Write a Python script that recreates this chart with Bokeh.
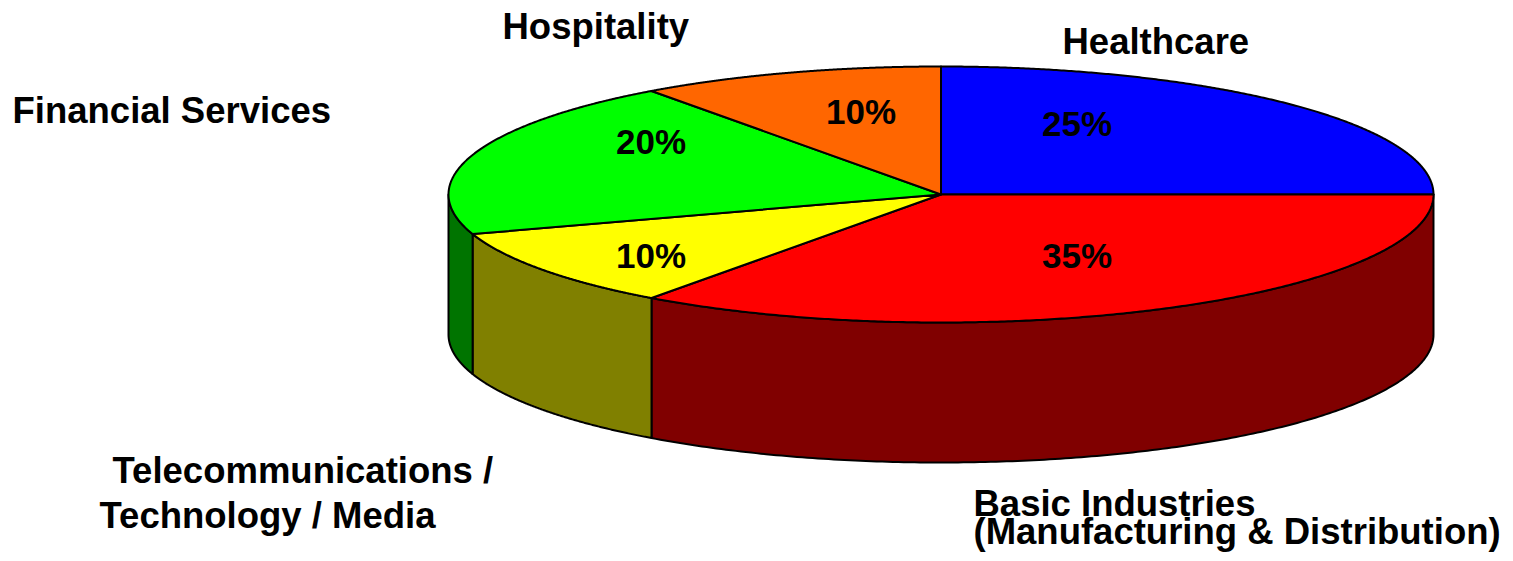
import numpy as np
from bokeh.plotting import figure
from bokeh.models import ColumnDataSource, Range1d
from bokeh.core.properties import value
from bokeh.embed import file_html
from bokeh.resources import INLINE

# ---- data ----
categories = ["Healthcare", "Basic Industries", "Telecommunications / Technology / Media",
              "Financial Services", "Hospitality"]
shares = [25, 35, 10, 20, 10]
pct_labels = ["25%", "35%", "10%", "20%", "10%"]
label_lines = [["Healthcare"],
               ["Basic Industries", "(Manufacturing & Distribution)"],
               ["Telecommunications /", "Technology / Media"],
               ["Financial Services"],
               ["Hospitality"]]
top_colors = ["#0000FF", "#FF0000", "#FFFF00", "#00FF00", "#FF6600"]
side_colors = ["#000080", "#800000", "#808000", "#007400", "#803300"]

# ---- layout (pixel space, y downward) ----
W, H = 1513, 561
cx, cy, rx, ry, depth = 940.5, 194.0, 492.5, 128.0, 140.0
BASE_FIX = -12  # renderer baseline correction
# percent label anchors, relative to pie centre (dx, baseline dy)
pct_offsets = [(136, -59), (136, 73), (-290, 73), (-290, -41), (-80, -71)]
# category label line anchors (left x, baseline y)
cat_anchor = [[(1062, 53)],
              [(973, 515), (973, 543)],
              [(112, 482), (99, 527)],
              [(12, 122)],
              [(502, 38)]]

p = figure(width=W, height=H, output_backend="svg", toolbar_location=None,
           x_range=Range1d(0, W), y_range=Range1d(H, 0), min_border=0)
p.axis.visible = False
p.grid.visible = False
p.outline_line_color = None
p.background_fill_color = "white"
p.border_fill_color = "white"


def pt(t_deg, dy=0.0):
    t = np.radians(t_deg)
    return cx + rx * np.sin(t), cy - ry * np.cos(t) + dy


total = float(sum(shares))
starts, ends = [], []
acc = 0.0
for s in shares:
    starts.append(acc / total * 360.0)
    acc += s
    ends.append(acc / total * 360.0)

# side faces (front half: 90..270 deg clockwise from top)
sx, sy, sc = [], [], []
for a, b, c in zip(starts, ends, side_colors):
    lo, hi = max(a, 90.0), min(b, 270.0)
    if hi <= lo:
        continue
    ts = np.linspace(lo, hi, 200)
    xt, yt = pt(ts)
    xb, yb = pt(ts[::-1], depth)
    sx.append(list(np.concatenate([xt, xb])))
    sy.append(list(np.concatenate([yt, yb])))
    sc.append(c)
p.patches(xs=sx, ys=sy, fill_color=sc, line_color="black", line_width=2,
          line_join="round")

# top faces
tx, ty = [], []
for a, b in zip(starts, ends):
    ts = np.linspace(a, b, 300)
    xa, ya = pt(ts)
    tx.append([cx] + list(xa))
    ty.append([cy] + list(ya))
p.patches(xs=tx, ys=ty, fill_color=top_colors, line_color="black", line_width=2,
          line_join="round")

# percent labels
psrc = ColumnDataSource(dict(x=[cx + o[0] for o in pct_offsets],
                             y=[cy + o[1] + BASE_FIX for o in pct_offsets],
                             t=pct_labels))
p.text(x="x", y="y", text="t", source=psrc, text_font=value("Liberation Sans"),
       text_font_style="bold", text_font_size="35px", text_color="black",
       text_align="center", text_baseline="alphabetic")

# category labels
lx, ly, lt = [], [], []
for lines, anchors in zip(label_lines, cat_anchor):
    for line, (ax, ay) in zip(lines, anchors):
        lx.append(ax)
        ly.append(ay + BASE_FIX)
        lt.append(line)
csrc = ColumnDataSource(dict(x=lx, y=ly, t=lt))
p.text(x="x", y="y", text="t", source=csrc, text_font=value("Liberation Sans"),
       text_font_style="bold", text_font_size="36.5px", text_color="black",
       text_align="left", text_baseline="alphabetic")

open("out.html", "w").write(file_html(p, INLINE))
